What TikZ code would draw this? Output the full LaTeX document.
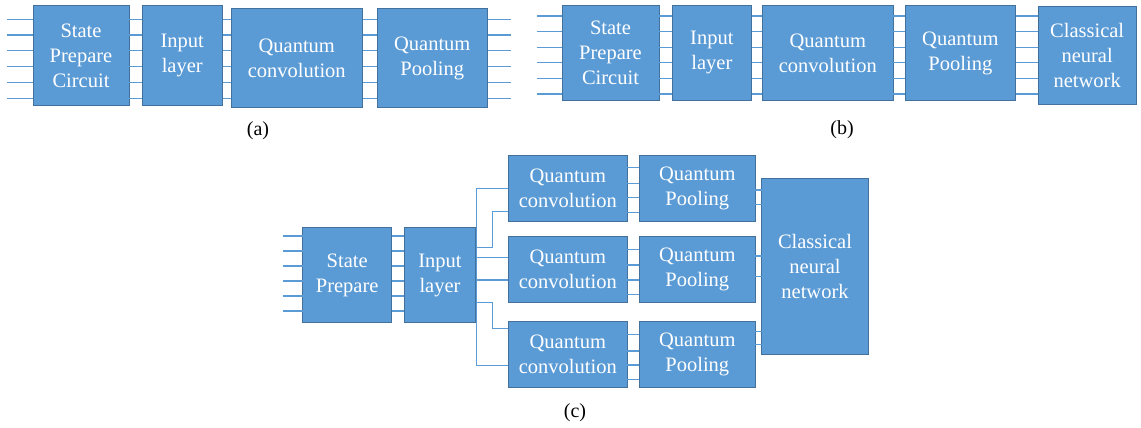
\documentclass[tikz,border=0pt]{standalone}
\usepackage{fontspec}
\setmainfont{Liberation Serif}
\definecolor{boxfill}{HTML}{5B9BD5}
\definecolor{boxline}{HTML}{41719C}
\definecolor{wirec}{HTML}{5B9BD5}
\begin{document}
\begin{tikzpicture}[x=1pt,y=-1pt,
  qbox/.style={draw=boxline,fill=boxfill,line width=1pt,text=white,align=center,inner sep=0pt,outer sep=0pt,font=\fontsize{20.5}{25}\selectfont},
  wire/.style={draw=wirec,line width=1.2pt},
  sublabel/.style={font=\fontsize{20}{22}\selectfont,text=black}]
\useasboundingbox (0,0) rectangle (1141,428);
\newcommand\qb[6]{\node[qbox,minimum width={(#4)-(#2)},minimum height={(#5)-(#3)}] (#1) at ({(#2+#4)/2},{(#3+#5)/2}) {#6};}
% ---------- (a)
\qb{a1}{33}{6}{129}{105.5}{State\\Prepare\\Circuit}
\qb{a2}{142}{6}{222.5}{105.5}{Input\\layer}
\qb{a3}{231}{9}{362.5}{107}{Quantum\\convolution}
\qb{a4}{377}{9}{487.5}{107}{Quantum\\Pooling}
\coordinate (aL) at (7,0);
\coordinate (aR) at (511,0);
\foreach \y in {19.3,35.1,50.9,66.7,82.5,98.3}{
  \draw[wire] (aL |- 0,\y) -- (a1.west |- 0,\y);
  \draw[wire] (a1.east |- 0,\y) -- (a2.west |- 0,\y);
  \draw[wire] (a2.east |- 0,\y) -- (a3.west |- 0,\y);
  \draw[wire] (a3.east |- 0,\y) -- (a4.west |- 0,\y);
  \draw[wire] (a4.east |- 0,\y) -- (aR |- 0,\y);
}
\node[sublabel] (la) at (258,131) {(a)};
% ---------- (b)
\qb{b1}{562}{6}{659}{100}{State\\Prepare\\Circuit}
\qb{b2}{672}{6}{751.7}{100}{Input\\layer}
\qb{b3}{762.3}{6}{893.3}{100}{Quantum\\convolution}
\qb{b4}{905}{6}{1015.7}{100}{Quantum\\Pooling}
\qb{b5}{1038.3}{6.7}{1136}{104}{Classical\\neural\\network}
\coordinate (bL) at (537.3,0);
\foreach \y in {16,31.6,47.2,62.8,78.4,94}{
  \draw[wire] (bL |- 0,\y) -- (b1.west |- 0,\y);
  \draw[wire] (b1.east |- 0,\y) -- (b2.west |- 0,\y);
  \draw[wire] (b2.east |- 0,\y) -- (b3.west |- 0,\y);
  \draw[wire] (b3.east |- 0,\y) -- (b4.west |- 0,\y);
  \draw[wire] (b4.east |- 0,\y) -- (b5.west |- 0,\y);
}
\node[sublabel] (lb) at (842,130) {(b)};
% ---------- (c)
\qb{c1}{302.7}{227.7}{391.7}{322.3}{State\\Prepare}
\qb{c2}{404.3}{227.7}{475.7}{322.3}{Input\\layer}
\qb{qc1}{508.3}{155}{627.3}{221}{Quantum\\convolution}
\qb{qp1}{639.3}{155}{755.3}{221}{Quantum\\Pooling}
\qb{qc2}{508.3}{236.3}{627.3}{302}{Quantum\\convolution}
\qb{qp2}{639.3}{236.3}{755.3}{302}{Quantum\\Pooling}
\qb{qc3}{508.3}{321.3}{627.3}{387}{Quantum\\convolution}
\qb{qp3}{639.3}{321.3}{755.3}{387}{Quantum\\Pooling}
\qb{cnn}{761.7}{178.3}{868.3}{354}{Classical\\neural\\network}
\coordinate (cL) at (282.7,0);
\foreach \y in {236,251,266,281,296,311}{
  \draw[wire] (cL |- 0,\y) -- (c1.west |- 0,\y);
  \draw[wire] (c1.east |- 0,\y) -- (c2.west |- 0,\y);
}
% branches from input layer
\draw[wire] (qc1.west |- 0,188.7) -- ([xshift=1pt]c2.east |- 0,188.7) -- ([xshift=1pt]c2.east |- 0,365.5) -- (qc3.west |- 0,365.5);
\coordinate (bx) at (492.7,0);
\draw[wire] (c2.east |- 0,247.3) -- (bx |- 0,247.3) -- (bx |- 0,211.7) -- (qc1.west |- 0,211.7);
\draw[wire] (c2.east |- 0,257.7) -- (qc2.west |- 0,257.7);
\draw[wire] (c2.east |- 0,280) -- (qc2.west |- 0,280);
\draw[wire] (c2.east |- 0,302.3) -- (bx |- 0,302.3) -- (bx |- 0,328.3) -- (qc3.west |- 0,328.3);
% conv to pooling
\foreach \y in {167.3,183.3,197.7,212.7}{\draw[wire] (qc1.east |- 0,\y) -- (qp1.west |- 0,\y);}
\foreach \y in {249.3,265,280,294.3}{\draw[wire] (qc2.east |- 0,\y) -- (qp2.west |- 0,\y);}
\foreach \y in {334.3,351,365,379.3}{\draw[wire] (qc3.east |- 0,\y) -- (qp3.west |- 0,\y);}
% pooling to classical
\foreach \y in {190,204.5}{\draw[wire] (qp1.east |- 0,\y) -- (cnn.west |- 0,\y);}
\foreach \y in {256,276.7}{\draw[wire] (qp2.east |- 0,\y) -- (cnn.west |- 0,\y);}
\foreach \y in {331.7,344.5}{\draw[wire] (qp3.east |- 0,\y) -- (cnn.west |- 0,\y);}
\node[sublabel] (lc) at (575,413) {(c)};
\end{tikzpicture}
\end{document}
